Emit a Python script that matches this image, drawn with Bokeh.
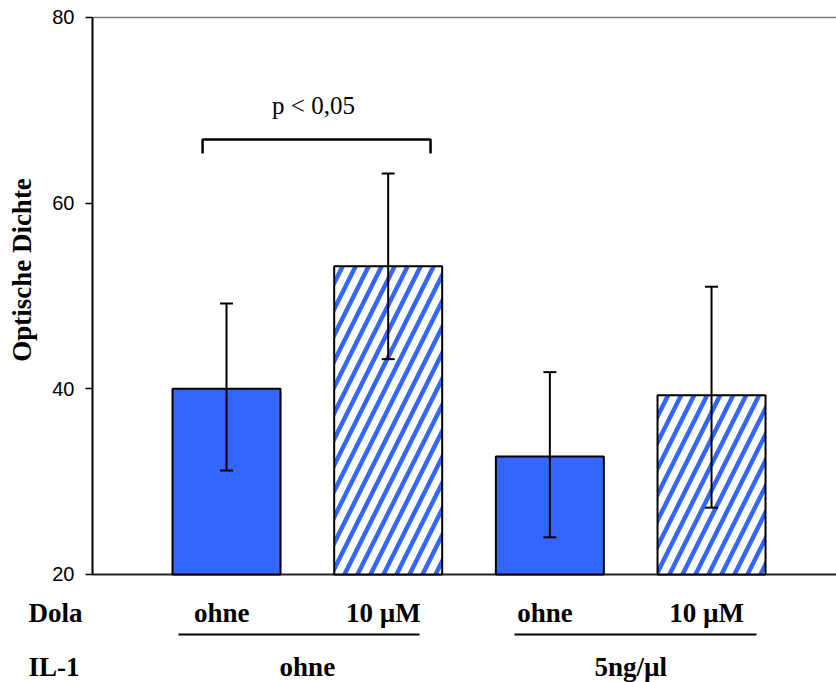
import math
from bokeh.plotting import figure
from bokeh.models import Range1d, FixedTicker, Label
from bokeh.embed import file_html
from bokeh.resources import INLINE

# ---- data ----
positions = [1, 2, 3, 4]
dola_labels = ["ohne", "10 µM", "ohne", "10 µM"]
il1_labels = ["ohne", "5ng/µl"]
means = [40.0, 53.2, 32.7, 39.3]
err_upper = [49.2, 63.2, 41.8, 51.0]
err_lower = [31.2, 43.2, 24.0, 27.2]
hatched = [False, True, False, True]
y_ticks = [20, 40, 60, 80]
p_text = "p < 0,05"

BLUE = "#3366ff"
SERIF = "Liberation Serif"
SANS = "Liberation Sans"

X_START, X_END = -0.398, 4.773
AXIS_X = 0.1711

p = figure(width=836, height=682, output_backend="svg", toolbar_location=None,
           x_axis_location=None, y_axis_location="left",
           x_range=Range1d(X_START, X_END), y_range=Range1d(8.366, 81.831),
           min_border=0)
p.outline_line_color = None
p.xgrid.visible = False
p.ygrid.visible = False
p.background_fill_color = "white"
p.border_fill_color = "white"

# y axis drawn at a fixed x position inside the frame
ax = p.yaxis[0]
ax.fixed_location = AXIS_X
ax.bounds = (20, 80)
ax.ticker = FixedTicker(ticks=y_ticks)
ax.minor_tick_line_color = None
ax.major_tick_out = 7
ax.major_tick_in = 0
ax.major_tick_line_width = 1.5
ax.major_tick_line_color = "black"
ax.axis_line_width = 2
ax.axis_line_color = "black"
ax.major_label_standoff = 11
ax.major_label_text_font = SANS
ax.major_label_text_font_size = "20px"
ax.major_label_text_color = "black"

# top and bottom frame lines
p.segment(x0=[AXIS_X], y0=[80], x1=[X_END], y1=[80], line_color="#777777", line_width=1.5)
p.segment(x0=[AXIS_X], y0=[20], x1=[X_END], y1=[20], line_color="#222222", line_width=2)

bw = 0.668
solid_x = [x for x, h in zip(positions, hatched) if not h]
solid_y = [m for m, h in zip(means, hatched) if not h]
hat_x = [x for x, h in zip(positions, hatched) if h]
hat_y = [m for m, h in zip(means, hatched) if h]

p.vbar(x=solid_x, top=solid_y, bottom=20, width=bw, fill_color=BLUE,
       line_color="black", line_width=2)
p.vbar(x=hat_x, top=hat_y, bottom=20, width=bw, fill_color="white",
       hatch_pattern="right_diagonal_line", hatch_color=BLUE, hatch_scale=26,
       hatch_weight=4.5, line_color="black", line_width=2)

# error bars
cap = 0.04
p.segment(x0=positions, y0=err_lower, x1=positions, y1=err_upper,
          line_color="black", line_width=2)
p.segment(x0=[x - cap for x in positions], y0=err_upper,
          x1=[x + cap for x in positions], y1=err_upper, line_color="black", line_width=2)
p.segment(x0=[x - cap for x in positions], y0=err_lower,
          x1=[x + cap for x in positions], y1=err_lower, line_color="black", line_width=2)

# significance bracket
p.line(x=[0.852, 0.852, 2.262, 2.262], y=[65.35, 66.86, 66.86, 65.35],
       line_color="black", line_width=2.5)
p.add_layout(Label(x=1.538, y=70.5, text=p_text, text_align="center",
                   text_baseline="alphabetic", text_font=SERIF,
                   text_font_size="25px", text_color="black"))

# y axis title
p.add_layout(Label(x=-0.265, y=52.8, text="Optische Dichte", angle=math.pi / 2,
                   text_align="center", text_baseline="middle", text_font=SERIF,
                   text_font_style="bold", text_font_size="27px", text_color="black"))

# category rows
row1_y = 15.8
row2_y = 10.07
line_y = 13.53
p.add_layout(Label(x=-0.2247, y=row1_y, text="Dola", text_align="left",
                   text_baseline="alphabetic", text_font=SERIF, text_font_style="bold",
                   text_font_size="27px", text_color="black"))
p.add_layout(Label(x=-0.2247, y=row2_y, text="IL-1", text_align="left",
                   text_baseline="alphabetic", text_font=SERIF, text_font_style="bold",
                   text_font_size="27px", text_color="black"))
for x, t in zip(positions, dola_labels):
    p.add_layout(Label(x=x - 0.03, y=row1_y, text=t, text_align="center",
                       text_baseline="alphabetic", text_font=SERIF, text_font_style="bold",
                       text_font_size="27px", text_color="black"))
for i, t in enumerate(il1_labels):
    cx = (positions[2 * i] + positions[2 * i + 1]) / 2
    p.add_layout(Label(x=cx, y=row2_y, text=t, text_align="center",
                       text_baseline="alphabetic", text_font=SERIF, text_font_style="bold",
                       text_font_size="27px", text_color="black"))
# group underlines
p.segment(x0=[0.703, 2.781], y0=[line_y, line_y], x1=[2.194, 4.278], y1=[line_y, line_y],
          line_color="black", line_width=2)

open("out.html", "w").write(file_html(p, INLINE))
